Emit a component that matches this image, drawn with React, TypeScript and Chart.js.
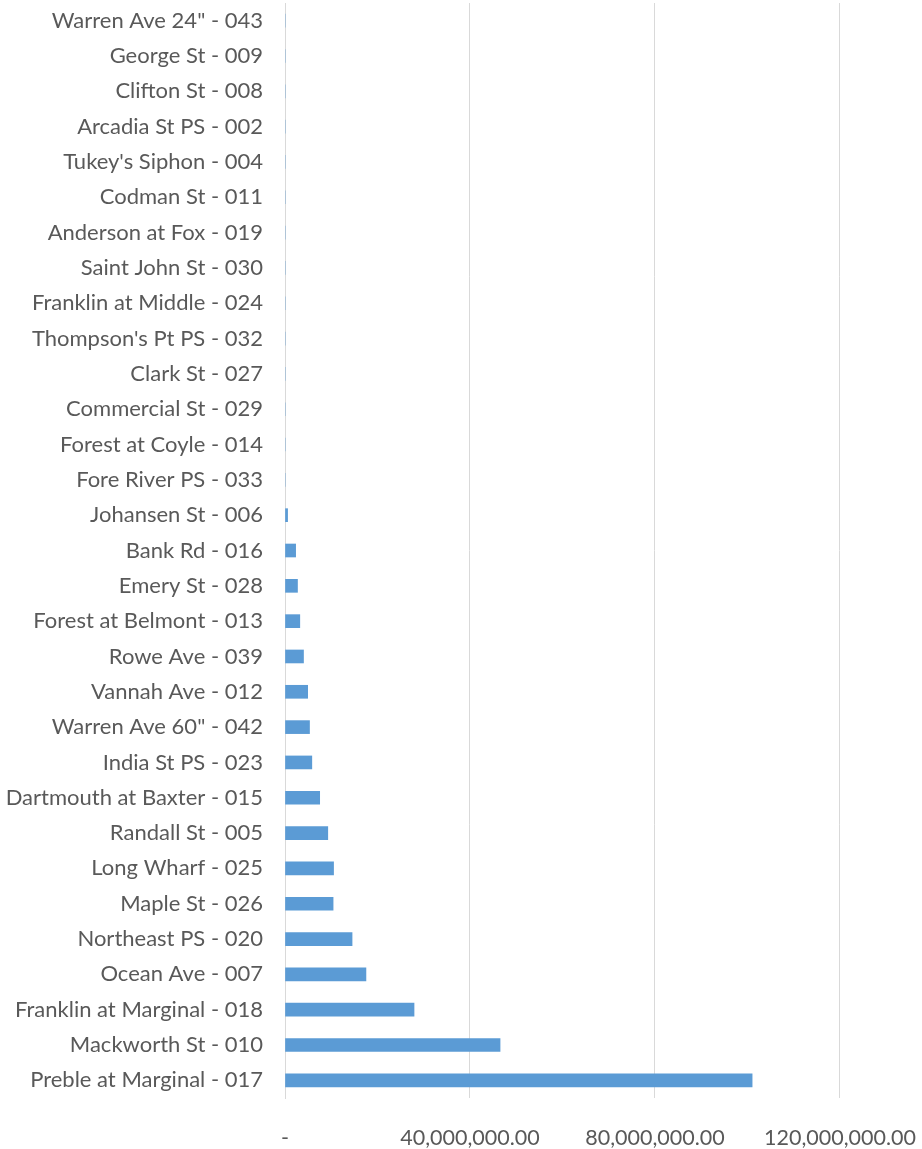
import React, { useEffect, useRef } from "react";
import { Chart, registerables } from "chart.js";

Chart.register(...registerables);

const categories: string[] = [
  'Warren Ave 24" - 043',
  "George St - 009",
  "Clifton St - 008",
  "Arcadia St PS - 002",
  "Tukey's Siphon - 004",
  "Codman St - 011",
  "Anderson at Fox - 019",
  "Saint John St - 030",
  "Franklin at Middle - 024",
  "Thompson's Pt PS - 032",
  "Clark St - 027",
  "Commercial St - 029",
  "Forest at Coyle - 014",
  "Fore River PS - 033",
  "Johansen St - 006",
  "Bank Rd - 016",
  "Emery St - 028",
  "Forest at Belmont - 013",
  "Rowe Ave - 039",
  "Vannah Ave - 012",
  'Warren Ave 60" - 042',
  "India St PS - 023",
  "Dartmouth at Baxter - 015",
  "Randall St - 005",
  "Long Wharf - 025",
  "Maple St - 026",
  "Northeast PS - 020",
  "Ocean Ave - 007",
  "Franklin at Marginal - 018",
  "Mackworth St - 010",
  "Preble at Marginal - 017",
];

const values: number[] = [
  0, 0, 0, 0, 0, 0, 0, 0, 0, 0, 0, 0, 0, 0,
  560000,
  2300000,
  2700000,
  3200000,
  4000000,
  4900000,
  5300000,
  5800000,
  7500000,
  9250000,
  10500000,
  10400000,
  14500000,
  17500000,
  27900000,
  46500000,
  101000000,
];

const xTicks: number[] = [0, 40000000, 80000000, 120000000];
const xMax = 137300000;

export default function App() {
  const ref = useRef<HTMLCanvasElement | null>(null);

  useEffect(() => {
    if (!ref.current) return;
    const yFont = { family: "Lato, 'Liberation Sans Narrow', sans-serif", size: 22 };
    const xFont = { family: "Lato, 'Liberation Sans Narrow', sans-serif", size: 21.5 };
    const chart = new Chart(ref.current, {
      type: "bar",
      data: {
        labels: categories,
        datasets: [
          {
            data: values,
            backgroundColor: "#5B9BD5",
            borderWidth: 0,
            barThickness: 13,
          },
        ],
      },
      options: {
        indexAxis: "y",
        animation: false,
        responsive: true,
        maintainAspectRatio: false,
        layout: { padding: { top: 3, right: 2, left: 0, bottom: 0 } },
        plugins: { legend: { display: false }, tooltip: { enabled: false } },
        scales: {
          x: {
            min: 0,
            max: xMax,
            afterBuildTicks: (scale: any) => {
              scale.ticks = xTicks.map((v) => ({ value: v }));
            },
            afterFit: (scale: any) => {
              scale.height = 51;
              scale.paddingLeft = 0;
              scale.paddingRight = 0;
            },
            grid: { color: "#d9d9d9", drawTicks: false, lineWidth: 1 },
            border: { display: false },
            ticks: {
              color: "#595959",
              font: xFont,
              padding: 27,
              maxRotation: 0,
              callback: (v: any) =>
                Number(v) === 0
                  ? "-"
                  : Number(v).toLocaleString("en-US", {
                      minimumFractionDigits: 2,
                      maximumFractionDigits: 2,
                    }),
            },
          },
          y: {
            afterFit: (scale: any) => {
              scale.width = 285;
              scale.paddingTop = 0;
              scale.paddingBottom = 0;
            },
            grid: { display: false, drawTicks: false },
            border: { display: true, color: "#d9d9d9", width: 1 },
            ticks: {
              color: "#595959",
              font: yFont,
              padding: 22,
              autoSkip: false,
            },
          },
        },
      },
    });
    return () => chart.destroy();
  }, []);

  return (
    <div style={{ position: "absolute", left: 0, top: 0, width: 922, height: 1149, background: "#fff" }}>
      <canvas ref={ref} />
    </div>
  );
}
